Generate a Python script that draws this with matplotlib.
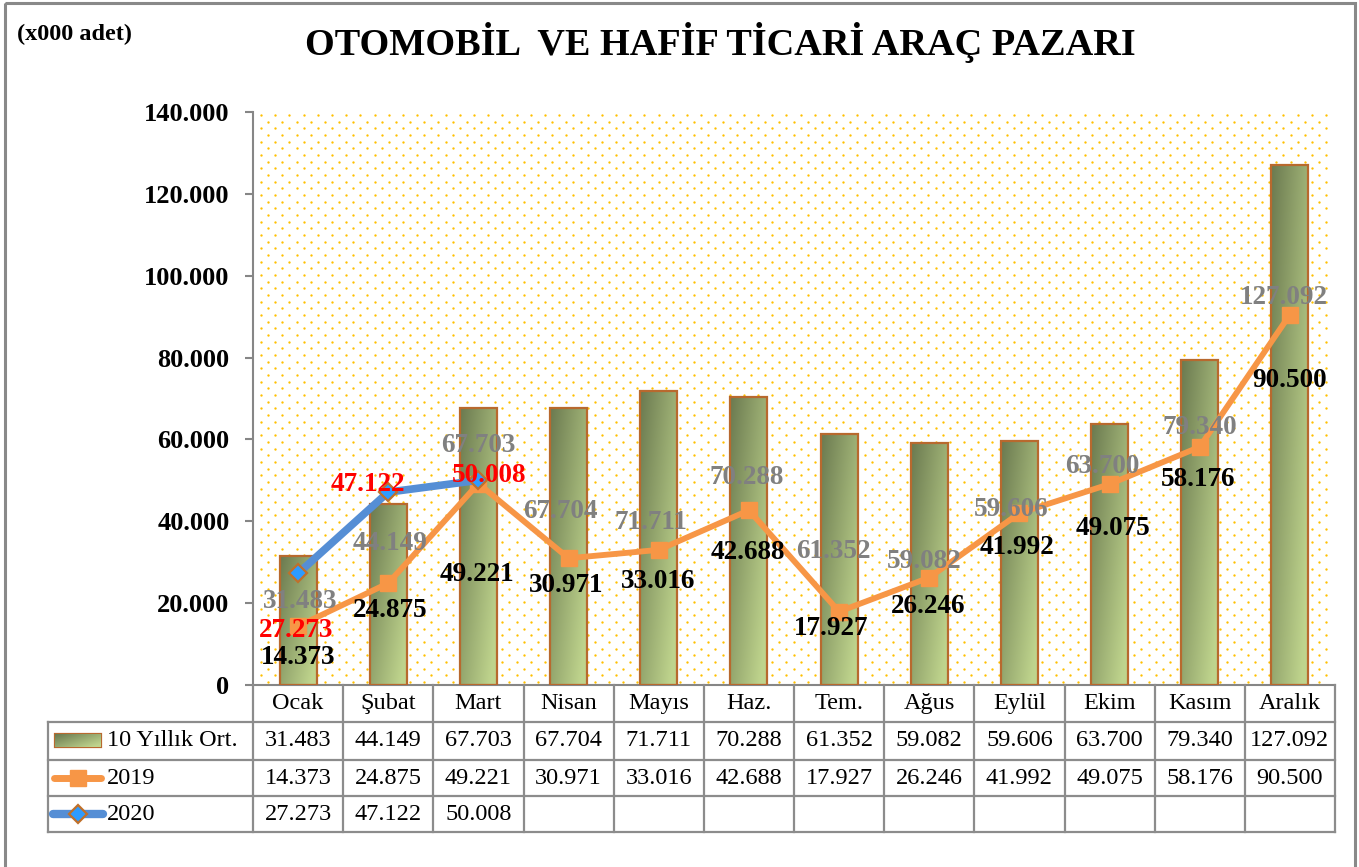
import numpy as np
import matplotlib
matplotlib.use("Agg")
import matplotlib.pyplot as plt
from matplotlib.patches import Rectangle
import matplotlib.colors as mcolors
from matplotlib.ticker import FuncFormatter, MultipleLocator

# ---------------- data ----------------
months = ["Ocak", "Şubat", "Mart", "Nisan", "Mayıs", "Haz.", "Tem.",
          "Ağus", "Eylül", "Ekim", "Kasım", "Aralık"]
avg10 = [31483, 44149, 67703, 67704, 71711, 70288, 61352, 59082, 59606, 63700, 79340, 127092]
y2019 = [14373, 24875, 49221, 30971, 33016, 42688, 17927, 26246, 41992, 49075, 58176, 90500]
y2020 = [27273, 47122, 50008]
series_names = ["10 Yıllık Ort.", "2019", "2020"]
title_text = "OTOMOBİL  VE HAFİF TİCARİ ARAÇ PAZARI"
unit_text = "(x000 adet)"

# data-label anchor placement (layout only)
avg_lab_y = [20300, 34500, 58600, 42300, 39800, 50800, 32500, 30100, 43000, 53500, 62800, 94600]
avg_lab_dx = [0.02, 0.02, 0.0, -0.09, -0.09, -0.02, -0.06, -0.06, -0.09, -0.08, 0.0, -0.07]
l19_lab_y = [6800, 18100, 27100, 24200, 25400, 32300, 13900, 19300, 33500, 38300, 50100, 74500]
l19_lab_dx = [0.0, 0.02, -0.02, -0.03, -0.01, -0.01, -0.09, -0.01, -0.03, 0.04, -0.02, 0.0]
l20_lab_y = [13400, 48900, 51100]
l20_lab_dx = [-0.02, -0.23, 0.12]

W, H = 1359, 867
SERIF = ["Liberation Serif", "DejaVu Serif"]
plt.rcParams["font.family"] = SERIF

def fmt(v):
    return f"{v:,.0f}".replace(",", ".")

fig = plt.figure(figsize=(W / 100, H / 100), dpi=100)
fig.patch.set_facecolor("white")

# plot area in pixels
PL, PR, PT, PB = 253, 1335, 112, 685
ax = fig.add_axes([PL / W, 1 - PB / H, (PR - PL) / W, (PB - PT) / H])
ax.set_facecolor("white")
n = len(months)
xs = np.arange(n)
ax.set_xlim(-0.5, n - 0.5)
ax.set_ylim(0, 140000)

# dotted background pattern
dx_list, dy_list = [], []
row = 0
yy = 115.0
while yy < PB - 2:
    x0 = 261.0 if row % 2 == 0 else 268.1
    xx = x0
    while xx < PR - 4:
        dx_list.append(xx / W)
        dy_list.append(1 - yy / H)
        xx += 14.2
    yy += 6.67
    row += 1
ax.plot(dx_list, dy_list, ls="none", marker="o", ms=1.7, mew=0,
        color="#FFC000", transform=fig.transFigure, zorder=0.5)

# bars with gradient
dark = np.array(mcolors.to_rgb("#6B7A50"))
light = np.array(mcolors.to_rgb("#BFD48D"))
def grad_img(ny=120, nx=30):
    u = np.linspace(0, 1, nx)[None, :]
    v = np.linspace(0, 1, ny)[:, None]
    t = np.clip(0.6 * u + 0.5 * v, 0, 1)
    return dark[None, None, :] * (1 - t[..., None]) + light[None, None, :] * t[..., None]

bw = 0.41
bars = ax.bar(xs, avg10, width=bw, facecolor="none", edgecolor="#B8692E",
              linewidth=1.6, zorder=3)
img = grad_img()
for b in bars:
    x0, w_, h_ = b.get_x(), b.get_width(), b.get_height()
    im = ax.imshow(img, extent=[x0, x0 + w_, 0, h_], aspect="auto",
                   origin="upper", zorder=2, interpolation="bilinear")
    im.set_clip_path(b)

# lines
ORANGE = "#F79646"
BLUE = "#558ED5"
ax.plot(xs, y2019, color=ORANGE, lw=4.2, marker="s", ms=11, mfc=ORANGE,
        mec=ORANGE, zorder=4, solid_capstyle="round")
ax.plot(xs[:len(y2020)], y2020, color=BLUE, lw=5.5, marker="D", ms=9.5,
        mfc="#2E9BFF", mec="#C0702A", mew=1.6, zorder=5, solid_capstyle="round")

ax.set_xlim(-0.5, n - 0.5)
ax.set_ylim(0, 140000)

# labels
LBL = 19.5
for i in range(n):
    ax.text(xs[i] + avg_lab_dx[i], avg_lab_y[i], fmt(avg10[i]), color="#808080",
            fontsize=LBL, fontweight="bold", ha="center", va="center", zorder=6)
for i in range(n):
    ax.text(xs[i] + l19_lab_dx[i], l19_lab_y[i], fmt(y2019[i]), color="black",
            fontsize=LBL, fontweight="bold", ha="center", va="center", zorder=7)
for i in range(len(y2020)):
    ax.text(xs[i] + l20_lab_dx[i], l20_lab_y[i], fmt(y2020[i]), color="#FF0000",
            fontsize=LBL, fontweight="bold", ha="center", va="center", zorder=8)

# axes styling
GRAY = "#868686"
for s in ["top", "right"]:
    ax.spines[s].set_visible(False)
for s in ["left", "bottom"]:
    ax.spines[s].set_color(GRAY)
    ax.spines[s].set_linewidth(1.5)
ax.yaxis.set_major_locator(MultipleLocator(20000))
ax.yaxis.set_major_formatter(FuncFormatter(lambda v, p: fmt(v)))
ax.tick_params(axis="y", direction="out", length=6, width=1.5, color=GRAY,
               labelsize=19, pad=11)
for t in ax.get_yticklabels():
    t.set_fontweight("bold")
ax.set_xticks([])

# overlay pixel axes for title, table, border
ov = fig.add_axes([0, 0, 1, 1], zorder=10)
ov.set_xlim(0, W)
ov.set_ylim(H, 0)
ov.axis("off")
ov.patch.set_visible(False)

ov.add_patch(Rectangle((5, 3), 1350, 880, fill=False, edgecolor="#898989", lw=2.2))
ov.text(720, 55, title_text, fontsize=27.5, fontweight="bold", ha="center",
        va="baseline")
ov.text(17, 40, unit_text, fontsize=17.5, fontweight="bold", ha="left",
        va="baseline")

# table
TG = "#8C8C8C"
TLW = 1.6
colw = (PR - PL) / n
edges = [PL + i * colw for i in range(n + 1)]
rows_y = [PB, 722, 760, 796, 832]
LEFT = 48
for yv in rows_y[1:]:
    ov.plot([LEFT, PR], [yv, yv], color=TG, lw=TLW, solid_capstyle="projecting")
for xv in edges:
    ov.plot([xv, xv], [PB, rows_y[-1]], color=TG, lw=TLW, solid_capstyle="projecting")
ov.plot([LEFT, LEFT], [rows_y[1], rows_y[-1]], color=TG, lw=TLW,
        solid_capstyle="projecting")

TFS = 17.5
cy = [(rows_y[k] + rows_y[k + 1]) / 2 for k in range(4)]
for i in range(n):
    cx = (edges[i] + edges[i + 1]) / 2
    ov.text(cx, cy[0], months[i], fontsize=TFS, ha="center", va="center")
    ov.text(cx, cy[1], fmt(avg10[i]), fontsize=TFS, ha="center", va="center")
    ov.text(cx, cy[2], fmt(y2019[i]), fontsize=TFS, ha="center", va="center")
    if i < len(y2020):
        ov.text(cx, cy[3], fmt(y2020[i]), fontsize=TFS, ha="center", va="center")

for k, name in enumerate(series_names):
    ov.text(107, cy[k + 1], name, fontsize=TFS, ha="left", va="center")

# legend keys
icon = Rectangle((55, 734), 46, 13, facecolor="none", edgecolor="#B8692E", lw=1.6)
ov.add_patch(icon)
gi = grad_img(20, 40)
im2 = ov.imshow(gi, extent=[55, 101, 747, 734], aspect="auto", origin="upper",
                interpolation="bilinear", zorder=1)
im2.set_clip_path(icon)
ov.plot([54, 101], [cy[2], cy[2]], color=ORANGE, lw=5, solid_capstyle="round")
ov.plot([78], [cy[2]], marker="s", ms=11, color=ORANGE)
ov.plot([53, 103], [cy[3], cy[3]], color=BLUE, lw=6, solid_capstyle="round")
ov.plot([78], [cy[3]], marker="D", ms=9, mfc="#2E9BFF", mec="#C0702A", mew=1.6)
ov.set_xlim(0, W)
ov.set_ylim(H, 0)

fig.savefig("out.png", dpi=100, facecolor="white")
